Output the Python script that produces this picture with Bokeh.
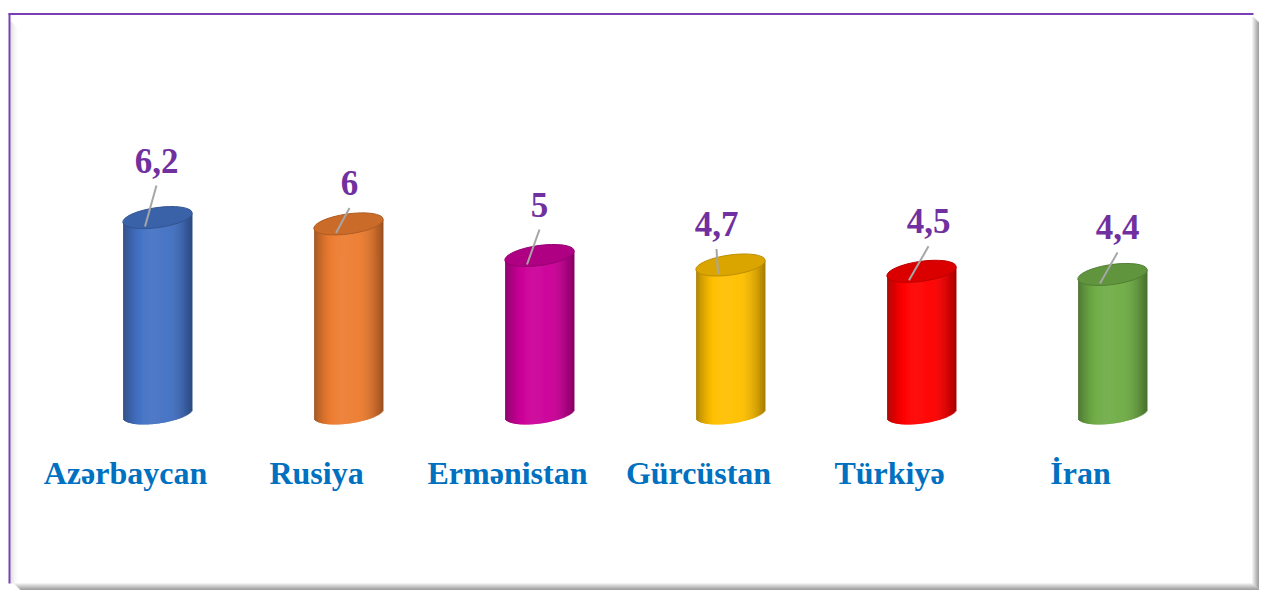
import numpy as np
from bokeh.plotting import figure
from bokeh.models import Range1d, ColumnDataSource
from bokeh.core.properties import value
from bokeh.embed import file_html
from bokeh.resources import INLINE

# ---- data ----
categories = ["Azərbaycan", "Rusiya", "Ermənistan", "Gürcüstan", "Türkiyə", "İran"]
values = [6.2, 6, 5, 4.7, 4.5, 4.4]
colors = ["#4472C4", "#ED7D31", "#CC0099", "#FFC000", "#FF0000", "#70AD47"]
value_labels = [f"{v:g}".replace(".", ",") for v in values]

# label layout (pixel offsets of each value label from its cylinder top)
label_dx = [-1, 1, 0, -14, 7, 5]
label_dy = [45, 29, 39, 29, 38, 35]
TEXT_SHIFT = 12  # renderer baseline correction (px)

# ---- layout ----
W, H = 1259, 590
PX_X = 191.0   # px per category step
PX_Y = 31.6    # px per value unit
X0 = 157       # canvas px of first category centre
Y0 = 413       # canvas px of value 0
x_start = -X0 / PX_X
x_end = (W - X0) / PX_X
y_end = Y0 / PX_Y
y_start = -(H - Y0) / PX_Y


def cx(px):
    return x_start + px / PX_X


def cy(py):
    return y_end - py / PX_Y


def hex2rgb(h):
    h = h.lstrip("#")
    return np.array([int(h[i:i + 2], 16) for i in (0, 2, 4)], dtype=float)


def shade(h, f):
    c = hex2rgb(h)
    if f <= 1:
        c = c * f
    else:
        c = c + (255 - c) * (f - 1)
    c = np.clip(c, 0, 255).astype(int)
    return "#%02x%02x%02x" % tuple(c)


p = figure(width=W, height=H, x_range=Range1d(x_start, x_end),
           y_range=Range1d(y_start, y_end), x_axis_type=None, y_axis_type=None,
           toolbar_location=None, output_backend="svg", min_border=0,
           title=None, outline_line_color=None,
           background_fill_color="white", border_fill_color="white")

# ---- frame decoration ----
RX, BY = 1252, 583
shadow_cols = ["#e6e6e6", "#d4d4d4", "#c2c2c2", "#b0b0b0", "#9e9e9e", "#8c8c8c", "#808080"]
for k, c in enumerate(shadow_cols):
    p.quad(left=cx(RX + k), right=cx(RX + 1 + k), top=cy(16 + k), bottom=cy(BY + k),
           fill_color=c, line_color=None)
    p.quad(left=cx(14 + k), right=cx(RX + 1 + k), top=cy(BY + k), bottom=cy(BY + 1 + k),
           fill_color=c, line_color=None)
bevel_cols = ["#d6d6d6", "#dedede", "#e6e6e6", "#ededed", "#f3f3f3", "#f8f8f8", "#fcfcfc"]
for k, c in enumerate(bevel_cols):
    p.quad(left=cx(10 + k), right=cx(11 + k), top=cy(21 + k), bottom=cy(BY),
           fill_color=c, line_color=None)
p.segment(x0=[cx(8), cx(9)], y0=[cy(13.5), cy(13)], x1=[cx(RX + 1), cx(9)],
          y1=[cy(13.5), cy(BY)], line_color="#7B3FB5", line_width=2)

# ---- cylinders ----
a, b, th = 35.0, 10.0, 0.14
c_, s_ = np.cos(th), np.sin(th)
A = s_ ** 2 / a ** 2 + c_ ** 2 / b ** 2
hw = np.sqrt(a ** 2 * c_ ** 2 + b ** 2 * s_ ** 2) - 0.3
n = 70
du = 2 * hw / n
us = -hw + du * (np.arange(n) + 0.5)
B = 2 * us * s_ * c_ * (1 / a ** 2 - 1 / b ** 2)
C = us ** 2 * (c_ ** 2 / a ** 2 + s_ ** 2 / b ** 2) - 1
vm = -B / (2 * A)
half = np.sqrt(np.clip(B ** 2 - 4 * A * C, 0, None)) / (2 * A)
t = (us + hw) / (2 * hw)
t0 = 0.42
g = 1 - ((t - t0) / np.where(t < t0, t0, 1 - t0)) ** 2
fac = 0.64 + 0.42 * np.clip(g, 0, 1) ** 0.8

L, R, T, Bt, F = [], [], [], [], []
for i, (v, col) in enumerate(zip(values, colors)):
    for u, m, hh, f in zip(us, vm, half, fac):
        L.append(i + (u - du / 2) / PX_X)
        R.append(i + (u + du / 2 + 0.6) / PX_X)
        T.append(v + m / PX_Y)
        Bt.append((m - hh) / PX_Y)
        F.append(shade(col, f))
p.quad(left="l", right="r", top="t", bottom="b", fill_color="c", line_color=None,
       source=ColumnDataSource(dict(l=L, r=R, t=T, b=Bt, c=F)))

idx = list(range(len(categories)))
top_src = ColumnDataSource(dict(
    x=idx, y=values,
    fc=[shade(c, 0.86) for c in colors],
    lc=[shade(c, 0.74) for c in colors]))
p.ellipse(x="x", y="y", width=2 * a, height=2 * b, angle=th,
          width_units="screen", height_units="screen",
          fill_color="fc", line_color="lc", line_width=1, source=top_src)

# ---- leader lines ----
p.segment(x0=[i + dx / PX_X for i, dx in zip(idx, label_dx)],
          y0=[v + (dy - 13) / PX_Y for v, dy in zip(values, label_dy)],
          x1=[i - 12.5 / PX_X for i in idx],
          y1=[v - 9 / PX_Y for v in values],
          line_color="#a6a6a6", line_width=2)

# ---- value labels ----
p.text(x="x", y="y", text="t", x_offset="dx", y_offset="dy",
       source=ColumnDataSource(dict(x=idx, y=values, t=value_labels,
                                    dx=label_dx,
                                    dy=[-(d + TEXT_SHIFT) for d in label_dy])),
       text_font=value("Liberation Serif"), text_font_style="bold",
       text_font_size="35px", text_color="#7030A0",
       text_align="center", text_baseline="alphabetic")

# ---- category labels ----
p.text(x=idx, y=[0] * len(idx), text=categories, x_offset=-32,
       y_offset=71 - TEXT_SHIFT,
       text_font=value("Liberation Serif"), text_font_style="bold",
       text_font_size="32px", text_color="#0070C0",
       text_align="center", text_baseline="alphabetic")

open("out.html", "w").write(file_html(p, INLINE))
